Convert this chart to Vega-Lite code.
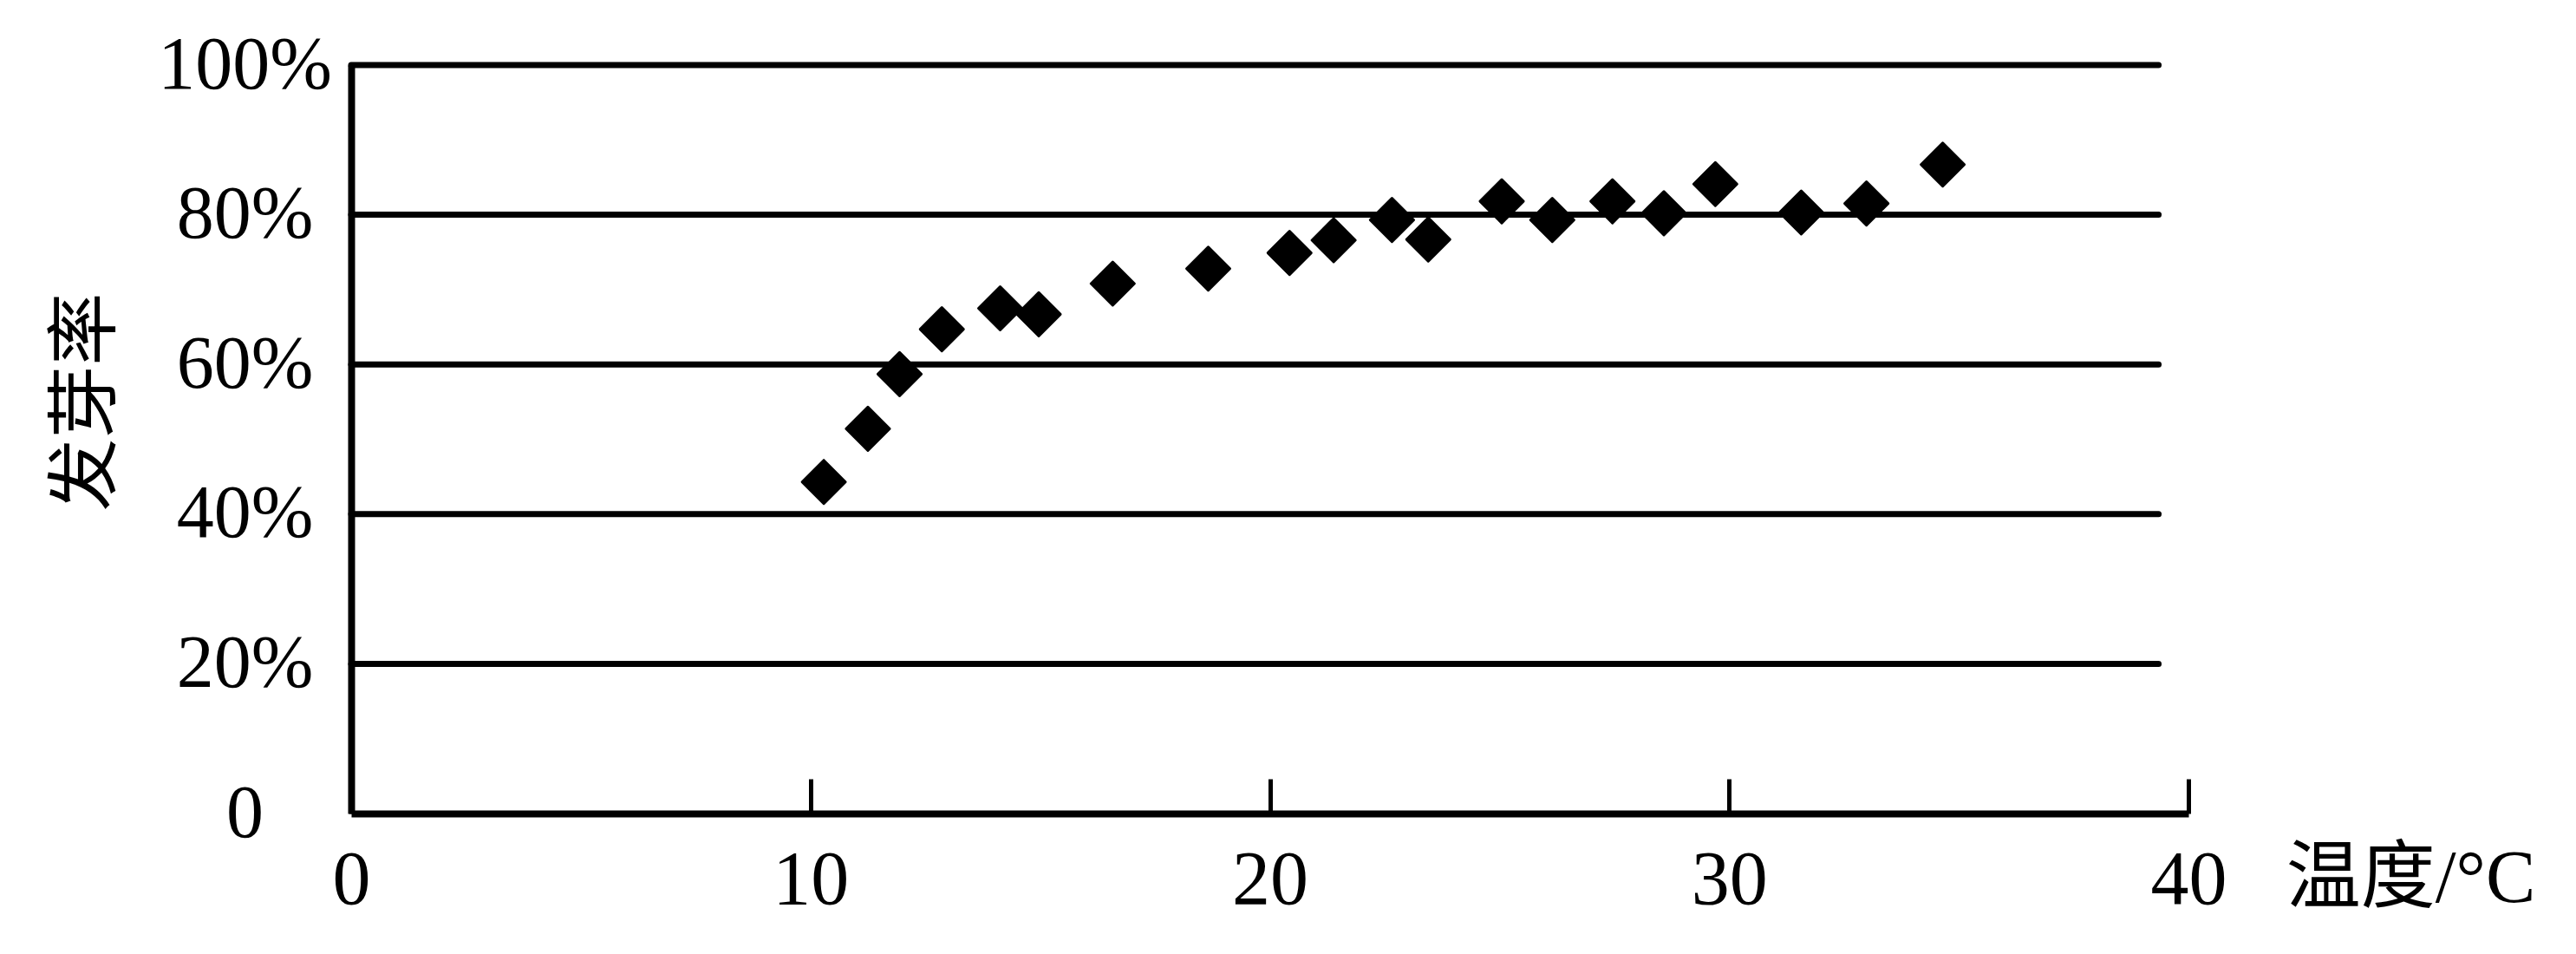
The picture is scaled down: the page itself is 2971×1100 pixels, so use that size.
{
  "$schema": "https://vega.github.io/schema/vega-lite/v6.json",
  "width": 2119,
  "height": 863,
  "autosize": {"type": "none"},
  "padding": {"left": 405, "top": 75, "right": 447, "bottom": 162},
  "background": "white",
  "config": {
    "view": {"stroke": null},
    "axisX": {
      "grid": false,
      "titleX": 2375, "titleY": 75,
      "titleAlign": "center", "titleBaseline": "middle", "titleAngle": 0,
      "titleFont": "Liberation Serif, Noto Sans CJK SC", "titleFontSize": 86, "titleFontWeight": "normal", "titleColor": "black", "titleLimit": 0,
      "labelFont": "Liberation Serif", "labelFontSize": 88, "labelColor": "black", "labelLimit": 0,
      "labelBaseline": "middle", "labelAlign": "center", "labelPadding": 117,
      "labelFlush": false, "labelOverlap": false, "labelBound": false,
      "ticks": true, "tickSize": -40, "tickWidth": 5, "tickColor": "black",
      "domainColor": "black", "domainWidth": 8
    },
    "axisY": {
      "grid": false,
      "titleAngle": -90, "titleX": -305, "titleY": 388,
      "titleAlign": "center", "titleBaseline": "middle",
      "titleFont": "Liberation Serif, Noto Sans CJK SC", "titleFontSize": 84, "titleFontWeight": "normal", "titleColor": "black", "titleLimit": 0,
      "labelFont": "Liberation Serif", "labelFontSize": 86, "labelColor": "black", "labelLimit": 0,
      "labelAlign": "center", "labelBaseline": "middle", "labelPadding": 123,
      "labelOverlap": false, "labelBound": false, "labelFlush": false,
      "ticks": false, "tickSize": 0,
      "domainColor": "black", "domainWidth": 8
    }
  },
  "layer": [
    {
      "data": {"values": [{"rate": 20}, {"rate": 40}, {"rate": 60}, {"rate": 80}, {"rate": 100}]},
      "mark": {"type": "rule", "color": "black", "strokeWidth": 7, "strokeCap": "round"},
      "encoding": {
        "y": {"field": "rate", "type": "quantitative", "scale": {"domain": [0, 100], "nice": false},
              "axis": {"title": "发芽率", "values": [0, 20, 40, 60, 80, 100], "labelExpr": "datum.value == 0 ? '0' : datum.value + '%'"}},
        "x": {"datum": 0, "type": "quantitative", "scale": {"domain": [0, 40], "nice": false},
              "axis": {"title": "温度/°C", "values": [0, 10, 20, 30, 40]}},
        "x2": {"datum": 39.35}
      }
    },
    {
      "data": {"values": [
        {"t": 10.29, "rate": 44.3},
        {"t": 11.25, "rate": 51.4},
        {"t": 11.94, "rate": 58.7},
        {"t": 12.86, "rate": 64.7},
        {"t": 14.13, "rate": 67.5},
        {"t": 14.97, "rate": 66.7},
        {"t": 16.58, "rate": 70.8},
        {"t": 18.66, "rate": 72.8},
        {"t": 20.43, "rate": 74.9},
        {"t": 21.39, "rate": 76.6},
        {"t": 22.66, "rate": 79.3},
        {"t": 23.45, "rate": 76.7},
        {"t": 25.05, "rate": 81.8},
        {"t": 26.15, "rate": 79.3},
        {"t": 27.46, "rate": 81.8},
        {"t": 28.58, "rate": 80.2},
        {"t": 29.7, "rate": 84.1},
        {"t": 31.57, "rate": 80.3},
        {"t": 32.99, "rate": 81.5},
        {"t": 34.65, "rate": 86.7}
      ]},
      "mark": {"type": "point", "shape": "diamond", "filled": true, "color": "black", "opacity": 1, "size": 2500, "stroke": "black", "strokeWidth": 3, "strokeJoin": "round"},
      "encoding": {
        "x": {"field": "t", "type": "quantitative", "scale": {"domain": [0, 40], "nice": false},
              "axis": {"title": "温度/°C", "values": [0, 10, 20, 30, 40]}},
        "y": {"field": "rate", "type": "quantitative", "scale": {"domain": [0, 100], "nice": false},
              "axis": {"title": "发芽率", "values": [0, 20, 40, 60, 80, 100], "labelExpr": "datum.value == 0 ? '0' : datum.value + '%'"}}
      }
    }
  ]
}
